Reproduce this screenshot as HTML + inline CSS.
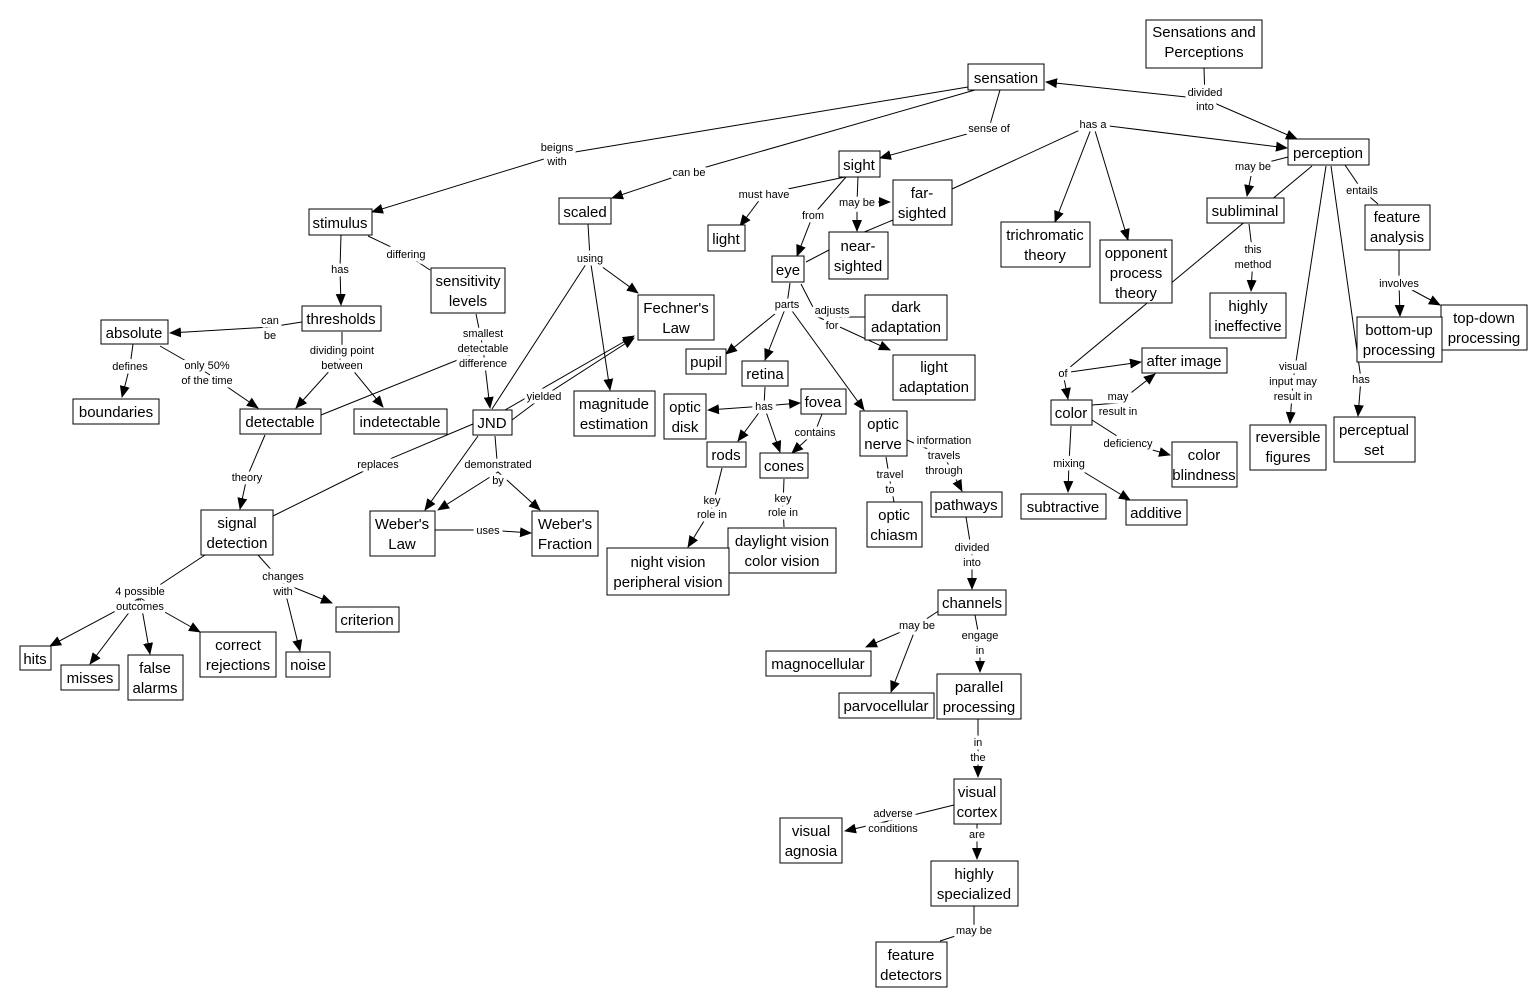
<!DOCTYPE html>
<html><head><meta charset="utf-8"><style>
html,body{margin:0;padding:0;background:#fff}
svg{display:block}
.n rect{fill:#fff;stroke:#000;stroke-width:1}
.n text{font-family:"Liberation Sans",sans-serif;font-size:15px;text-anchor:middle;fill:#000}
path{fill:none;stroke:#000;stroke-width:1}
.l{font-family:"Liberation Sans",sans-serif;font-size:11px;text-anchor:middle;fill:#000;paint-order:stroke;stroke:#fff;stroke-width:7px;stroke-linejoin:round}
</style></head><body>
<svg width="1540" height="1007" viewBox="0 0 1540 1007" xmlns="http://www.w3.org/2000/svg">
<defs><marker id="a" markerWidth="12" markerHeight="10" refX="11" refY="5" orient="auto" markerUnits="userSpaceOnUse"><path d="M0,0 L12,5 L0,10z" style="fill:#000;stroke:none"/></marker></defs>
<g>
<path d="M1204,68 L1205,99 L1297,139" marker-end="url(#a)"/>
<path d="M1205,99 L1046,82" marker-end="url(#a)"/>
<path d="M968,87 L557,155 L372,212" marker-end="url(#a)"/>
<path d="M975,90 L689,172 L612,198" marker-end="url(#a)"/>
<path d="M1000,90 L989,128 L880,158" marker-end="url(#a)"/>
<path d="M952,189 L1093,124 L1287,148" marker-end="url(#a)"/>
<path d="M1093,124 L1055,222" marker-end="url(#a)"/>
<path d="M1093,124 L1128,240" marker-end="url(#a)"/>
<path d="M845,177 L764,194 L740,226" marker-end="url(#a)"/>
<path d="M846,177 L813,215 L797,256" marker-end="url(#a)"/>
<path d="M858,177 L857,202 L890,202" marker-end="url(#a)"/>
<path d="M857,202 L857,231" marker-end="url(#a)"/>
<path d="M829,250 L806,262"/>
<path d="M893,220 L862,233"/>
<path d="M588,224 L590,258 L638,293" marker-end="url(#a)"/>
<path d="M590,258 L610,390" marker-end="url(#a)"/>
<path d="M590,258 L492,409"/>
<path d="M341,235 L340,269 L341,305" marker-end="url(#a)"/>
<path d="M368,236 L406,254 L430,270"/>
<path d="M302,322 L270,327 L170,333" marker-end="url(#a)"/>
<path d="M133,344 L130,366 L122,397" marker-end="url(#a)"/>
<path d="M160,346 L207,373 L258,408" marker-end="url(#a)"/>
<path d="M342,332 L342,357 L296,408" marker-end="url(#a)"/>
<path d="M342,357 L383,407" marker-end="url(#a)"/>
<path d="M476,314 L483,348 L490,408" marker-end="url(#a)"/>
<path d="M321,415 L470,355"/>
<path d="M512,420 L544,396 L634,338" marker-end="url(#a)"/>
<path d="M505,410 L634,336" marker-end="url(#a)"/>
<path d="M273,516 L378,464 L473,424"/>
<path d="M495,436 L498,472 L540,510" marker-end="url(#a)"/>
<path d="M498,472 L438,510" marker-end="url(#a)"/>
<path d="M478,436 L425,510" marker-end="url(#a)"/>
<path d="M435,530 L488,530 L531,533" marker-end="url(#a)"/>
<path d="M265,435 L247,477 L240,509" marker-end="url(#a)"/>
<path d="M205,555 L140,598 L50,646" marker-end="url(#a)"/>
<path d="M140,598 L90,664" marker-end="url(#a)"/>
<path d="M140,598 L150,654" marker-end="url(#a)"/>
<path d="M140,598 L200,632" marker-end="url(#a)"/>
<path d="M258,555 L283,583 L332,603" marker-end="url(#a)"/>
<path d="M283,583 L300,651" marker-end="url(#a)"/>
<path d="M790,283 L787,304 L726,354" marker-end="url(#a)"/>
<path d="M787,304 L765,360" marker-end="url(#a)"/>
<path d="M787,304 L864,410" marker-end="url(#a)"/>
<path d="M801,284 L818,317 L865,317"/>
<path d="M818,317 L890,350" marker-end="url(#a)"/>
<path d="M765,387 L764,406 L708,410" marker-end="url(#a)"/>
<path d="M764,406 L800,403" marker-end="url(#a)"/>
<path d="M764,406 L738,441" marker-end="url(#a)"/>
<path d="M764,406 L780,452" marker-end="url(#a)"/>
<path d="M822,414 L815,432 L792,453" marker-end="url(#a)"/>
<path d="M722,468 L712,508 L688,547" marker-end="url(#a)"/>
<path d="M784,479 L783,506 L784,527"/>
<path d="M886,457 L890,481 L894,502"/>
<path d="M907,440 L944,456 L962,491" marker-end="url(#a)"/>
<path d="M966,517 L972,554 L972,589" marker-end="url(#a)"/>
<path d="M940,610 L917,625 L866,647" marker-end="url(#a)"/>
<path d="M917,625 L891,692" marker-end="url(#a)"/>
<path d="M975,615 L980,642 L980,672" marker-end="url(#a)"/>
<path d="M978,719 L978,750 L978,777" marker-end="url(#a)"/>
<path d="M954,805 L893,820 L845,831" marker-end="url(#a)"/>
<path d="M977,824 L977,834 L977,859" marker-end="url(#a)"/>
<path d="M974,906 L974,930 L940,941"/>
<path d="M1288,157 L1253,166 L1247,196" marker-end="url(#a)"/>
<path d="M1249,224 L1253,257 L1251,291" marker-end="url(#a)"/>
<path d="M1345,165 L1362,190 L1378,204"/>
<path d="M1399,250 L1399,283 L1400,316" marker-end="url(#a)"/>
<path d="M1399,283 L1440,305" marker-end="url(#a)"/>
<path d="M1312,166 L1063,373 L1068,399" marker-end="url(#a)"/>
<path d="M1063,373 L1141,362" marker-end="url(#a)"/>
<path d="M1092,405 L1118,403 L1155,374" marker-end="url(#a)"/>
<path d="M1092,420 L1128,443 L1170,455" marker-end="url(#a)"/>
<path d="M1071,426 L1069,463 L1068,492" marker-end="url(#a)"/>
<path d="M1069,463 L1130,500" marker-end="url(#a)"/>
<path d="M1326,166 L1293,381 L1290,423" marker-end="url(#a)"/>
<path d="M1331,166 L1361,379 L1358,416" marker-end="url(#a)"/>
</g>
<g>
<text class="l" x="1205" y="96">divided<tspan x="1205" dy="14">into</tspan></text>
<text class="l" x="557" y="151">beigns<tspan x="557" dy="14">with</tspan></text>
<text class="l" x="689" y="176">can be</text>
<text class="l" x="989" y="132">sense of</text>
<text class="l" x="1093" y="128">has a</text>
<text class="l" x="764" y="198">must have</text>
<text class="l" x="813" y="219">from</text>
<text class="l" x="857" y="206">may be</text>
<text class="l" x="590" y="262">using</text>
<text class="l" x="340" y="273">has</text>
<text class="l" x="406" y="258">differing</text>
<text class="l" x="270" y="324">can<tspan x="270" dy="15">be</tspan></text>
<text class="l" x="130" y="370">defines</text>
<text class="l" x="207" y="369">only 50%<tspan x="207" dy="15">of the time</tspan></text>
<text class="l" x="342" y="354">dividing point<tspan x="342" dy="15">between</tspan></text>
<text class="l" x="483" y="337">smallest<tspan x="483" dy="15">detectable</tspan><tspan x="483" dy="15">difference</tspan></text>
<text class="l" x="544" y="400">yielded</text>
<text class="l" x="378" y="468">replaces</text>
<text class="l" x="498" y="468">demonstrated<tspan x="498" dy="16">by</tspan></text>
<text class="l" x="488" y="534">uses</text>
<text class="l" x="247" y="481">theory</text>
<text class="l" x="140" y="595">4 possible<tspan x="140" dy="15">outcomes</tspan></text>
<text class="l" x="283" y="580">changes<tspan x="283" dy="15">with</tspan></text>
<text class="l" x="787" y="308">parts</text>
<text class="l" x="832" y="314">adjusts<tspan x="832" dy="15">for</tspan></text>
<text class="l" x="764" y="410">has</text>
<text class="l" x="815" y="436">contains</text>
<text class="l" x="712" y="504">key<tspan x="712" dy="14">role in</tspan></text>
<text class="l" x="783" y="502">key<tspan x="783" dy="14">role in</tspan></text>
<text class="l" x="890" y="478">travel<tspan x="890" dy="15">to</tspan></text>
<text class="l" x="944" y="444">information<tspan x="944" dy="15">travels</tspan><tspan x="944" dy="15">through</tspan></text>
<text class="l" x="972" y="551">divided<tspan x="972" dy="15">into</tspan></text>
<text class="l" x="917" y="629">may be</text>
<text class="l" x="980" y="639">engage<tspan x="980" dy="15">in</tspan></text>
<text class="l" x="978" y="746">in<tspan x="978" dy="15">the</tspan></text>
<text class="l" x="893" y="817">adverse<tspan x="893" dy="15">conditions</tspan></text>
<text class="l" x="977" y="838">are</text>
<text class="l" x="974" y="934">may be</text>
<text class="l" x="1253" y="170">may be</text>
<text class="l" x="1253" y="253">this<tspan x="1253" dy="15">method</tspan></text>
<text class="l" x="1362" y="194">entails</text>
<text class="l" x="1399" y="287">involves</text>
<text class="l" x="1063" y="377">of</text>
<text class="l" x="1118" y="400">may<tspan x="1118" dy="15">result in</tspan></text>
<text class="l" x="1128" y="447">deficiency</text>
<text class="l" x="1069" y="467">mixing</text>
<text class="l" x="1293" y="370">visual<tspan x="1293" dy="15">input may</tspan><tspan x="1293" dy="15">result in</tspan></text>
<text class="l" x="1361" y="383">has</text>
</g>
<g class="n">
<rect x="1146" y="20" width="116" height="48"/><text x="1204" y="37">Sensations and<tspan x="1204" dy="20">Perceptions</tspan></text>
<rect x="968" y="64" width="76" height="26"/><text x="1006" y="83">sensation</text>
<rect x="1288" y="139" width="81" height="26"/><text x="1328" y="158">perception</text>
<rect x="839" y="151" width="41" height="26"/><text x="859" y="170">sight</text>
<rect x="559" y="198" width="52" height="26"/><text x="585" y="217">scaled</text>
<rect x="309" y="209" width="63" height="26"/><text x="340" y="228">stimulus</text>
<rect x="708" y="225" width="37" height="26"/><text x="726" y="244">light</text>
<rect x="893" y="180" width="59" height="45"/><text x="922" y="198">far-<tspan x="922" dy="20">sighted</tspan></text>
<rect x="829" y="232" width="59" height="47"/><text x="858" y="251">near-<tspan x="858" dy="20">sighted</tspan></text>
<rect x="772" y="256" width="32" height="26"/><text x="788" y="275">eye</text>
<rect x="1001" y="222" width="89" height="45"/><text x="1045" y="240">trichromatic<tspan x="1045" dy="20">theory</tspan></text>
<rect x="1100" y="240" width="72" height="63"/><text x="1136" y="258">opponent<tspan x="1136" dy="20">process</tspan><tspan x="1136" dy="20">theory</tspan></text>
<rect x="1207" y="198" width="77" height="25"/><text x="1245" y="216">subliminal</text>
<rect x="1365" y="205" width="65" height="45"/><text x="1397" y="222">feature<tspan x="1397" dy="20">analysis</tspan></text>
<rect x="431" y="268" width="74" height="45"/><text x="468" y="286">sensitivity<tspan x="468" dy="20">levels</tspan></text>
<rect x="638" y="295" width="76" height="45"/><text x="676" y="313">Fechner's<tspan x="676" dy="20">Law</tspan></text>
<rect x="302" y="306" width="79" height="25"/><text x="341" y="324">thresholds</text>
<rect x="101" y="320" width="67" height="24"/><text x="134" y="338">absolute</text>
<rect x="865" y="295" width="82" height="45"/><text x="906" y="312">dark<tspan x="906" dy="20">adaptation</tspan></text>
<rect x="1210" y="293" width="76" height="45"/><text x="1248" y="311">highly<tspan x="1248" dy="20">ineffective</tspan></text>
<rect x="1441" y="305" width="86" height="45"/><text x="1484" y="323">top-down<tspan x="1484" dy="20">processing</tspan></text>
<rect x="1357" y="317" width="85" height="45"/><text x="1399" y="335">bottom-up<tspan x="1399" dy="20">processing</tspan></text>
<rect x="686" y="349" width="40" height="25"/><text x="706" y="367">pupil</text>
<rect x="893" y="355" width="82" height="45"/><text x="934" y="372">light<tspan x="934" dy="20">adaptation</tspan></text>
<rect x="742" y="361" width="46" height="25"/><text x="765" y="379">retina</text>
<rect x="1142" y="348" width="85" height="25"/><text x="1184" y="366">after image</text>
<rect x="664" y="394" width="42" height="45"/><text x="685" y="412">optic<tspan x="685" dy="20">disk</tspan></text>
<rect x="801" y="389" width="45" height="25"/><text x="823" y="407">fovea</text>
<rect x="73" y="399" width="86" height="25"/><text x="116" y="417">boundaries</text>
<rect x="240" y="409" width="81" height="25"/><text x="280" y="427">detectable</text>
<rect x="354" y="409" width="93" height="25"/><text x="400" y="427">indetectable</text>
<rect x="473" y="410" width="39" height="25"/><text x="492" y="428">JND</text>
<rect x="574" y="391" width="81" height="45"/><text x="614" y="409">magnitude<tspan x="614" dy="20">estimation</tspan></text>
<rect x="1051" y="400" width="41" height="25"/><text x="1071" y="418">color</text>
<rect x="860" y="411" width="47" height="45"/><text x="883" y="429">optic<tspan x="883" dy="20">nerve</tspan></text>
<rect x="1250" y="425" width="76" height="45"/><text x="1288" y="442">reversible<tspan x="1288" dy="20">figures</tspan></text>
<rect x="1334" y="417" width="81" height="45"/><text x="1374" y="435">perceptual<tspan x="1374" dy="20">set</tspan></text>
<rect x="707" y="442" width="39" height="25"/><text x="726" y="460">rods</text>
<rect x="760" y="453" width="48" height="25"/><text x="784" y="471">cones</text>
<rect x="1172" y="442" width="65" height="45"/><text x="1204" y="460">color<tspan x="1204" dy="20">blindness</tspan></text>
<rect x="931" y="492" width="71" height="25"/><text x="966" y="510">pathways</text>
<rect x="867" y="502" width="55" height="45"/><text x="894" y="520">optic<tspan x="894" dy="20">chiasm</tspan></text>
<rect x="1021" y="494" width="85" height="25"/><text x="1063" y="512">subtractive</text>
<rect x="1126" y="500" width="61" height="25"/><text x="1156" y="518">additive</text>
<rect x="201" y="510" width="72" height="45"/><text x="237" y="528">signal<tspan x="237" dy="20">detection</tspan></text>
<rect x="370" y="511" width="65" height="45"/><text x="402" y="529">Weber's<tspan x="402" dy="20">Law</tspan></text>
<rect x="532" y="511" width="66" height="45"/><text x="565" y="529">Weber's<tspan x="565" dy="20">Fraction</tspan></text>
<rect x="728" y="528" width="108" height="45"/><text x="782" y="546">daylight vision<tspan x="782" dy="20">color vision</tspan></text>
<rect x="607" y="548" width="122" height="47"/><text x="668" y="567">night vision<tspan x="668" dy="20">peripheral vision</tspan></text>
<rect x="938" y="590" width="68" height="25"/><text x="972" y="608">channels</text>
<rect x="336" y="607" width="63" height="25"/><text x="367" y="625">criterion</text>
<rect x="200" y="632" width="76" height="45"/><text x="238" y="650">correct<tspan x="238" dy="20">rejections</tspan></text>
<rect x="20" y="646" width="31" height="24"/><text x="35" y="664">hits</text>
<rect x="286" y="652" width="44" height="25"/><text x="308" y="670">noise</text>
<rect x="61" y="665" width="58" height="25"/><text x="90" y="683">misses</text>
<rect x="128" y="655" width="55" height="45"/><text x="155" y="673">false<tspan x="155" dy="20">alarms</tspan></text>
<rect x="766" y="651" width="105" height="25"/><text x="818" y="669">magnocellular</text>
<rect x="937" y="674" width="84" height="45"/><text x="979" y="692">parallel<tspan x="979" dy="20">processing</tspan></text>
<rect x="839" y="693" width="95" height="25"/><text x="886" y="711">parvocellular</text>
<rect x="954" y="779" width="47" height="45"/><text x="977" y="797">visual<tspan x="977" dy="20">cortex</tspan></text>
<rect x="780" y="818" width="62" height="45"/><text x="811" y="836">visual<tspan x="811" dy="20">agnosia</tspan></text>
<rect x="931" y="861" width="87" height="45"/><text x="974" y="879">highly<tspan x="974" dy="20">specialized</tspan></text>
<rect x="876" y="942" width="71" height="45"/><text x="911" y="960">feature<tspan x="911" dy="20">detectors</tspan></text>
</g>
</svg>
</body></html>
